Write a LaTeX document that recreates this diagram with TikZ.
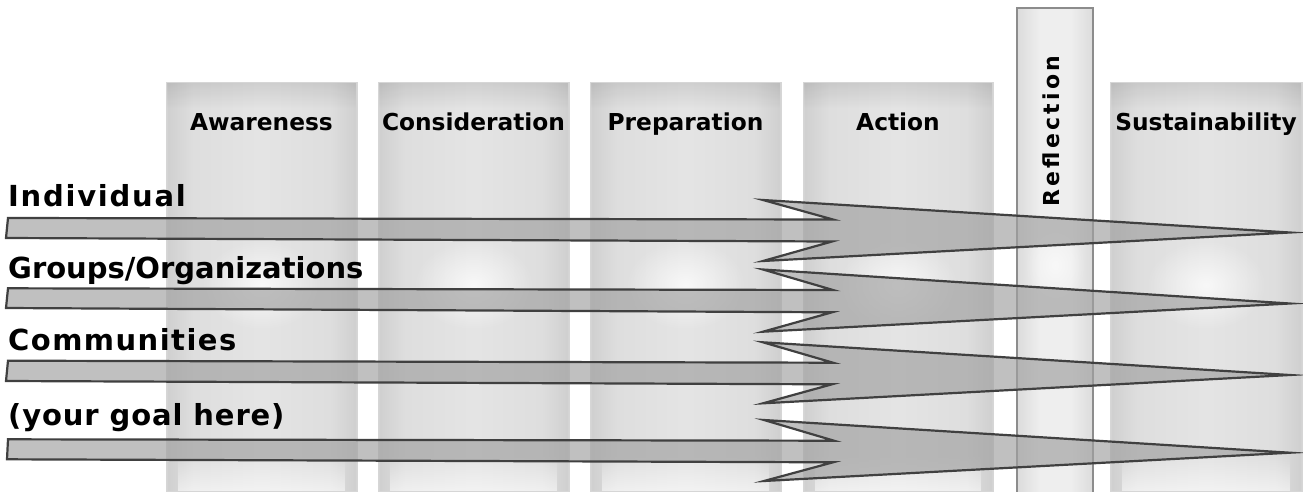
\documentclass[tikz,border=0pt]{standalone}
\usepackage{fontspec}
\setmainfont{DejaVu Sans}
\usetikzlibrary{fadings}
\definecolor{cedge}{gray}{0.85}
\definecolor{cdark}{gray}{0.815}
\definecolor{cmid}{gray}{0.87}
\definecolor{clight}{gray}{0.895}
\definecolor{redge}{gray}{0.86}
\definecolor{rlight}{gray}{0.935}
\pgfdeclarehorizontalshading{colsh}{100bp}{color(0bp)=(cedge); color(25bp)=(cedge); color(25.5bp)=(cdark); color(32bp)=(cmid); color(50bp)=(clight); color(68bp)=(cmid); color(74.5bp)=(cdark); color(75bp)=(cedge); color(100bp)=(cedge)}
\pgfdeclarehorizontalshading{reflsh}{100bp}{color(0bp)=(redge); color(25bp)=(redge); color(40bp)=(rlight); color(60bp)=(rlight); color(75bp)=(redge); color(100bp)=(redge)}
\tikzfading[name=glowfade, inner color=transparent!0, outer color=transparent!100]
\tikzfading[name=topfade, top color=transparent!0, bottom color=transparent!100]
\tikzfading[name=botfade, top color=transparent!100, bottom color=transparent!0]
\tikzset{
  colbox/.style={shading=colsh, draw=black!16, line width=1pt},
  reflbox/.style={shading=reflsh, draw=black!45, line width=1.8pt},
  fatarr/.style={fill=black!37, fill opacity=0.67, draw=black!75, line width=2.2pt, line join=miter, miter limit=25},
  head/.style={font=\fontsize{23.3}{28}\selectfont\bfseries, inner sep=0pt, anchor=base},
  lab/.style={font=\fontsize{29}{34}\selectfont\bfseries, inner sep=0pt, anchor=base west}
}
\begin{document}
\begin{tikzpicture}[x=1pt,y=-1pt]
\useasboundingbox (0,0) rectangle (1303,491);
% stage columns
\foreach \l/\r/\n/\t in {166/357/aw/Awareness, 378/569/co/Consideration, 590/781/pr/Preparation, 803/993/ac/Action, 1110/1302/su/Sustainability}{
  \path[colbox] (\l,82) rectangle (\r,491);
  \fill[black, opacity=0.09, path fading=topfade] (\l+1,82.5) rectangle (\r-1,108);
  \fill[white, opacity=0.55, path fading=botfade] (\l+12,455) rectangle (\r-12,491);
  \fill[white, opacity=0.75, path fading=glowfade] ({(\l+\r)/2},285) ellipse (60 and 45);
  \node[head] (\n) at ({(\l+\r)/2},130.5) {\t};
}
% reflection column
\path[reflbox] (1017,8) rectangle (1093,495);
\fill[white, opacity=0.6, path fading=glowfade] (1055,265) ellipse (30 and 40);
\node[font=\fontsize{22}{26}\selectfont\bfseries\addfontfeatures{LetterSpace=15}, inner sep=0pt, rotate=90, anchor=base west] (refl) at (1059,207) {Reflection};
% arrows
\draw[fatarr] (8,218) -- (833,219.5) -- (763,200) -- (1290,232.5) -- (763,261) -- (832,241.5) -- (6,238) -- cycle;
\draw[fatarr] (8,288.3) -- (833,290) -- (763,269.5) -- (1290,303.5) -- (763,331.7) -- (832,312.3) -- (6,308) -- cycle;
\draw[fatarr] (8,360.7) -- (833,362.7) -- (763,342.3) -- (1290,375) -- (763,403.3) -- (832,384.3) -- (6,381) -- cycle;
\draw[fatarr] (8,439.3) -- (834,440.7) -- (764,420) -- (1290,452.7) -- (764,481) -- (833,462.3) -- (7,459.3) -- cycle;
% row labels
\node[lab] (ind) at (8,206.7) {\addfontfeatures{LetterSpace=6}Individual};
\node[lab] (grp) at (8,278.3) {Groups/Organizations};
\node[lab] (com) at (8,350) {\addfontfeatures{LetterSpace=5}Communities};
\node[lab] (goal) at (8,425) {\addfontfeatures{LetterSpace=3}(your goal here)};
\end{tikzpicture}
\end{document}
